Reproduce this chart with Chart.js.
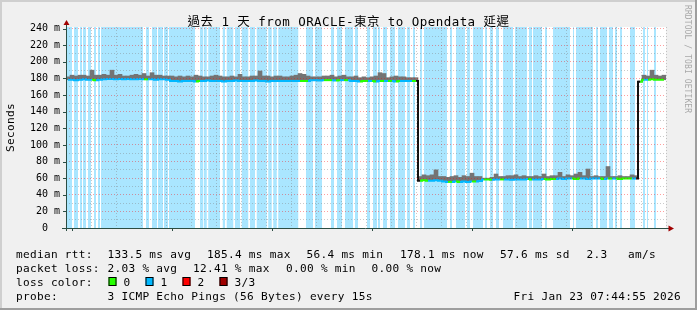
<!DOCTYPE html>
<html>
<head>
<meta charset="utf-8">
<script src="https://cdn.jsdelivr.net/npm/chart.js@4"></script>
<style>
html,body{margin:0;padding:0;background:#f0f0f0;}
canvas{display:block;}
</style>
</head>
<body>
<canvas id="myChart" width="697" height="310"></canvas>
<script>
// x values are hours counted from Thu 00:00, y values are milliseconds
var startHour = 7.75, endHour = 31.75;
var yMax = 242;
var firstBucket = 7.83, bucketStep = 0.16;   // 9.6 min buckets, centre of the first one

var median = [
  178.5,178.5,178,178.5,179,178.5,178.5,178,178.5,
  179,179.5,179.5,179,179.5,179,179.5,179,179,179.5,179,179,179,178.5,179,179,178.5,
  177,177,176.5,177,177,177,176.5,177,177,177.5,177,177,177,176.5,177,177,177.5,177,177,177,177,177.5,177,177,176.5,177,177,177,177,177,177,177,177,177,177,
  178,178,177.5,178,178,178,177.5,178,178,178,
  177,177,176.5,177,177,177,176.5,177,177,177,177,176.5,177,177,177,177,177,
  57,57.5,57,57,57.5,57,
  56,55.5,55.5,56,55.5,56,55.5,56,56,56.5,
  58.5,58.5,58,58.5,58.5,58.5,58.5,58,58.5,58.5,58.5,59,58.5,58.5,58.5,59,58.5,59,
  59,59.5,59,59.5,59.5,59,59.5,59.5,59,59.5,59.5,59.5,59,59.5,59.5,59.5,59,59.5,59.5,59.5,59.5,
  176,178.5,178.5,179,178.5,178.5,178.5
];

var smokeTop = [
  182,184,183,184,184,183,190,184,184,185,184,190,184,185,183,183,184,185,184,186,183,187,184,184,183,183,183,182,183,182,183,182,184,183,182,
  182,183,184,183,182,182,183,182,185,182,182,183,183,189,183,183,182,183,183,182,182,183,184,186,185,183,182,182,182,183,183,184,182,183,184,182,182,183,
  181,182,181,182,183,187,186,181,182,183,182,182,181,181,181,
  62,64,63,64,70,62,62,61,62,63,61,63,62,66,62,62,60,60,61,65,62,62,63,63,64,62,63,62,62,63,62,65,62,63,63,67,62,64,63,65,67,63,71,62,63,62,62,74,62,62,63,62,62,64,63,
  177,184,183,190,184,183,184
];

// time spans (hours) where one of the three pings was lost
var lossSpans = [
  [7.79,7.99],[8.07,8.23],[8.31,8.39],[8.43,8.55],[8.63,8.75],[8.87,8.95],[9.03,9.11],[9.15,10.83],
  [10.95,11.07],[11.19,11.39],[11.43,11.63],[11.67,11.83],[11.87,12.91],
  [13.11,13.24],[13.27,13.38],[13.44,13.91],[14.02,14.11],[14.18,14.44],[14.51,14.71],[14.78,15.04],
  [15.11,15.31],[15.38,15.78],[15.84,15.98],[16.04,16.18],[16.24,17.04],
  [17.35,17.63],[17.71,17.99],[18.35,18.47],[18.59,18.79],[18.91,19.23],
  [19.31,19.43],[19.59,19.63],[19.79,19.91],[20.03,20.19],[20.23,20.31],[20.43,20.59],[20.71,20.91],
  [21.03,21.31],[21.39,21.51],[21.63,21.71],[21.79,21.83],[21.91,21.99],
  [22.07,22.99],[23.11,23.19],[23.35,23.71],[23.79,23.91],[24.03,24.43],[24.51,24.59],[24.71,24.83],
  [24.95,25.07],[25.23,25.63],[25.71,26.19],[26.27,26.39],[26.43,26.79],[26.91,26.99],[27.23,27.91],
  [28.03,28.07],[28.15,28.83],[28.95,29.03],[29.11,29.39],[29.47,29.63],[29.71,29.79],[29.91,29.99],
  [30.31,30.51],[30.83,30.91],[30.99,31.03],[31.27,31.35]
];

var xTickHours = [8, 12, 16, 20, 24, 28];
var xTickLabels = ['Thu 08:00', 'Thu 12:00', 'Thu 16:00', 'Thu 20:00', 'Fri 00:00', 'Fri 04:00'];

var title = '過去 1 天 from ORACLE-東京 to Opendata 延遲';
var rttLegend = [['median rtt:', 16], ['133.5 ms avg', 107.5], ['185.4 ms max', 207], ['56.4 ms min', 306.5], ['178.1 ms now', 400], ['57.6 ms sd', 500], ['2.3', 586.5], ['am/s', 628]];
var lossLegend = [['packet loss:', 16], ['2.03 % avg', 107.5], ['12.41 % max', 193], ['0.00 % min', 286], ['0.00 % now', 371.5]];
var lossNames = ['0', '1', '2', '3/3'];
var lossColors = ['#26ff00', '#00b8ff', '#ff0000', '#a00000'];
var probeText = '3 ICMP Echo Pings (56 Bytes) every 15s';
var dateText = 'Fri Jan 23 07:44:55 2026';

var mono = '"DejaVu Sans Mono", "Noto Sans CJK TC", monospace';

function lossAt(h) {
  var a = h - bucketStep / 2, b = h + bucketStep / 2, over = 0;
  for (var k = 0; k < lossSpans.length; k++) {
    var s = lossSpans[k];
    over += Math.max(0, Math.min(b, s[1]) - Math.max(a, s[0]));
  }
  return over >= bucketStep / 2;
}

var lossPoints = [];
lossSpans.forEach(function(s) {
  lossPoints.push({x: s[0], y: 0}, {x: s[0], y: yMax}, {x: s[1], y: yMax}, {x: s[1], y: 0});
});
var medianPoints = median.map(function(v, i) { return {x: firstBucket + bucketStep * i, y: v}; });
var smokePoints = smokeTop.map(function(v, i) { return {x: firstBucket + bucketStep * i, y: [median[i], v]}; });

var frame = {
  id: 'frame',
  beforeDraw: function(chart) {
    var c = chart.ctx, a = chart.chartArea;
    c.save();
    c.fillStyle = '#f0f0f0'; c.fillRect(0, 0, 697, 310);
    c.fillStyle = '#cfcfcf'; c.fillRect(0, 0, 697, 2); c.fillRect(0, 0, 2, 310);
    c.fillStyle = '#9e9e9e'; c.fillRect(0, 308, 697, 2); c.fillRect(695, 0, 2, 310);
    c.fillStyle = '#ffffff'; c.fillRect(a.left, a.top, a.right - a.left, a.bottom - a.top);
    c.restore();
  },
  afterDraw: function(chart) {
    var c = chart.ctx, a = chart.chartArea, xs = chart.scales.x, ys = chart.scales.y;
    c.save();
    // axes and ticks
    c.strokeStyle = '#2c4d43'; c.lineWidth = 1;
    c.beginPath();
    c.moveTo(62, a.bottom + 0.5); c.lineTo(669, a.bottom + 0.5);
    c.moveTo(a.left + 0.5, a.bottom + 3); c.lineTo(a.left + 0.5, 23);
    for (var v = 20; v <= 240; v += 20) {
      var y = Math.round(ys.getPixelForValue(v)) + 0.5;
      c.moveTo(a.left - 3, y); c.lineTo(a.left, y);
    }
    xTickHours.forEach(function(h) {
      var x = Math.round(xs.getPixelForValue(h)) + 0.5;
      c.moveTo(x, a.bottom); c.lineTo(x, a.bottom + 3);
    });
    c.stroke();
    c.fillStyle = '#a00000';
    c.beginPath(); c.moveTo(a.left + 0.5, 20); c.lineTo(a.left - 2.5, 25); c.lineTo(a.left + 3.5, 25); c.closePath(); c.fill();
    c.beginPath(); c.moveTo(674, a.bottom + 0.5); c.lineTo(668.5, a.bottom - 2.5); c.lineTo(668.5, a.bottom + 3.5); c.closePath(); c.fill();

    // title
    c.fillStyle = '#000';
    c.textAlign = 'center'; c.textBaseline = 'alphabetic';
    c.font = '12.5px ' + mono; c.letterSpacing = '0.45px';
    c.fillText(title, 348.5, 26);

    // legend
    c.textAlign = 'left';
    c.font = '11.1px ' + mono; c.letterSpacing = '0.3px';
    rttLegend.forEach(function(t) { c.fillText(t[0], t[1], 258); });
    lossLegend.forEach(function(t) { c.fillText(t[0], t[1], 272); });
    c.fillText('loss color:', 16, 286);
    var boxX = [108.5, 145.5, 182.5, 219.5];
    lossNames.forEach(function(n, i) {
      c.fillStyle = lossColors[i]; c.fillRect(boxX[i], 277, 8, 9);
      c.strokeStyle = '#000'; c.strokeRect(boxX[i] + 0.5, 277.5, 7, 8);
      c.fillStyle = '#000'; c.fillText(n, boxX[i] + 15, 286);
    });
    c.fillText('probe:', 16, 300);
    c.fillText(probeText, 107.5, 300);
    c.textAlign = 'right';
    c.fillText(dateText, 681, 300);

    // unit label
    c.save();
    c.translate(11, (a.top + a.bottom) / 2);
    c.rotate(-Math.PI / 2);
    c.textAlign = 'center'; c.textBaseline = 'middle';
    c.fillText('Seconds', 0, 0);
    c.restore();

    // watermark
    c.save();
    c.translate(687.5, 5);
    c.rotate(Math.PI / 2);
    c.textAlign = 'left'; c.textBaseline = 'middle';
    c.font = '8px ' + mono; c.letterSpacing = '0.1px';
    c.fillStyle = '#a8a8a8';
    c.fillText('RRDTOOL / TOBI OETIKER', 0, 0);
    c.restore();
    c.restore();
  }
};

var ctx = document.getElementById('myChart').getContext('2d');
var myChart = new Chart(ctx, {
  type: 'line',
  data: {
    datasets: [
      {
        label: 'loss',
        data: lossPoints,
        fill: 'origin',
        backgroundColor: 'rgb(170,230,255)',
        borderWidth: 0,
        pointRadius: 0,
        order: 2
      },
      {
        type: 'bar',
        label: 'smoke',
        data: smokePoints,
        backgroundColor: '#747474',
        borderWidth: 0,
        barPercentage: 1,
        categoryPercentage: 1,
        grouped: false,
        order: 1
      },
      {
        label: 'median rtt',
        data: medianPoints,
        stepped: 'middle',
        borderWidth: 2,
        borderColor: lossColors[0],
        pointRadius: 0,
        fill: false,
        order: 0,
        segment: {
          borderColor: function(s) {
            if (Math.abs(s.p0.parsed.y - s.p1.parsed.y) > 30) return '#111';
            return lossAt(s.p0.parsed.x) ? lossColors[1] : lossColors[0];
          }
        }
      }
    ]
  },
  options: {
    responsive: false,
    animation: false,
    devicePixelRatio: 1,
    events: [],
    layout: {padding: {left: 0, top: 27, right: 31, bottom: 0}},
    plugins: {legend: {display: false}, tooltip: {enabled: false}, title: {display: false}},
    scales: {
      x: {
        type: 'linear',
        min: startHour,
        max: endHour,
        offset: false,
        afterFit: function(s) { s.height = 82; },
        grid: {
          z: 1,
          drawTicks: false,
          offset: false,
          color: function(c) { return c.tick && c.tick.value % 2 === 0 ? 'rgba(255,0,0,0.38)' : 'rgba(128,128,128,0.42)'; }
        },
        border: {display: false, dash: [1, 2]},
        ticks: {
          stepSize: 1,
          includeBounds: false,
          autoSkip: false,
          maxRotation: 0,
          minRotation: 0,
          padding: 4,
          color: '#000',
          font: {family: mono, size: 10},
          callback: function(v) {
            var k = xTickHours.indexOf(v);
            return k < 0 ? '' : xTickLabels[k];
          }
        }
      },
      y: {
        type: 'linear',
        min: 0,
        max: yMax,
        afterFit: function(s) { s.width = 66; },
        grid: {
          z: 1,
          drawTicks: false,
          color: function(c) { return c.tick && c.tick.value % 20 === 0 ? 'rgba(255,0,0,0.38)' : 'rgba(128,128,128,0.42)'; }
        },
        border: {display: false, dash: [1, 2]},
        ticks: {
          stepSize: 10,
          includeBounds: false,
          autoSkip: false,
          padding: 6,
          color: '#000',
          font: {family: mono, size: 10},
          callback: function(v) {
            if (v % 20 !== 0) return '';
            return v === 0 ? '0  ' : v + ' m';
          }
        }
      }
    }
  },
  plugins: [frame]
});
</script>
</body>
</html>
